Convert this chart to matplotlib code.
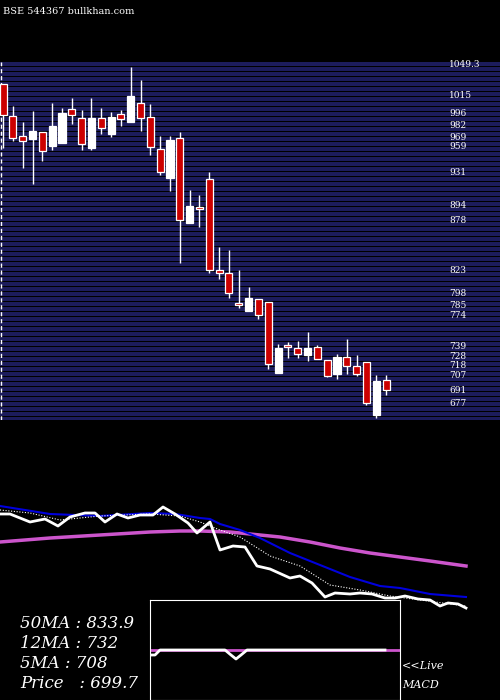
import matplotlib
matplotlib.use("Agg")
import matplotlib.pyplot as plt
import numpy as np

opens  = [1028,993,971,968,975,960,963,1001,991,958,991,973,995,986,1007,992,957,925,969,875,893,924,823,820,787,778,792,788,710,741,738,730,739,724,709,728,718,722,664,702]
closes = [994,969,965,976,954,982,996,994,962,991,980,992,990,1015,991,959,931,966,878,894,891,823,820,798,785,793,774,720,738,739,731,738,726,707,728,718,709,677,701,691]
highs  = [1028,1004,986,998,975,1007,1002,1013,999,1013,1002,997,999,1047,1032,1006,971,971,975,911,906,931,849,845,823,805,792,788,742,744,745,755,741,724,731,748,730,722,708,708]
lows   = [958,965,936,918,943,956,963,984,956,956,973,970,982,986,976,950,928,910,831,875,871,820,814,793,782,778,770,715,710,727,727,723,726,706,704,709,707,675,661,686]

# lower panel (moving averages), read in panel units
px_x = [0,10,30,45,58,70,85,95,105,117,128,140,153,163,175,188,197,210,220,233,245,257,270,290,300,312,325,335,350,360,372,385,395,405,418,430,440,448,458,466]
px_y = [514,514,522,519,526,517,513,513,522,514,518,515,515,507,514,523,533,522,550,546,547,566,569,578,576,583,597,593,594,593,594,598,598,596,599,600,606,603,604,608]
bl_x = [0,50,100,150,175,200,210,220,240,260,290,320,350,380,400,430,466]
bl_y = [506,514,516,513,514,518,519,524,530,538,553,565,577,586,588,594,597]
dt_x = [0,30,60,100,150,180,200,220,240,270,300,330,360,390,420,466]
dt_y = [510,513,520,516,514,516,522,530,537,556,566,585,590,596,600,606]
mg_x = [0,50,100,150,180,200,230,250,280,310,340,370,400,430,466]
mg_y = [542,538,535,532,531,531,532,534,537,542,548,553,557,561,566]
macd_x = [150,155,160,225,231,236,241,247,385]
macd_y = [655,655,650,650,655,659,655,650,650]

labels = ["50MA : 833.9", "12MA : 732", "5MA : 708", "Price   : 699.7"]

fig = plt.figure(figsize=(5, 7), dpi=100, facecolor="black")
W, H = 500, 700

def axes_px(x0, y0, x1, y1):
    return fig.add_axes([x0 / W, 1 - y1 / H, (x1 - x0) / W, (y1 - y0) / H])

# candle panel
ax = axes_px(0, 62, 500, 420)
ax.set_facecolor("black")
ylo, yhi = 658.5, 1052.3
ax.set_ylim(ylo, yhi)
ax.set_xlim(-0.31, 50.6)
for y in np.arange(yhi, ylo, -5.5):
    ax.axhspan(y - 4.0, y, color="#1c1c5c", lw=0, zorder=0)
n = len(opens)
for i in range(n):
    o, c, h, l = opens[i], closes[i], highs[i], lows[i]
    red = c < o
    ax.vlines(i, l, h, color="white", lw=1, zorder=2)
    ax.bar(i, abs(c - o) if abs(c - o) > 0.8 else 1.5, bottom=min(o, c), width=0.72,
           color="#cc0000" if red else "white", edgecolor="white", lw=0.9, zorder=3)
levels = sorted(set(closes + [1049.3]), reverse=True)
last = None
for v in levels:
    if last is not None and last - v < 10:
        continue
    ax.text(45.4, v, f"{v:g}", color="white", fontsize=6.5, family="DejaVu Serif",
            va="center", ha="left", zorder=4)
    last = v
ax.axvline(-0.22, color="white", lw=1, ls=(0, (3, 2)))
ax.axis("off")

fig.text(3 / W, 1 - 12 / H, "BSE 544367 bullkhan.com", color="white", fontsize=7,
         family="DejaVu Serif", va="center")

# MA panel
ax2 = axes_px(0, 490, 500, 700)
ax2.set_xlim(0, 500)
ax2.set_ylim(700, 490)
ax2.axis("off")
ax2.plot(mg_x, mg_y, color="#cc55cc", lw=2.5)
ax2.plot(bl_x, bl_y, color="#0000dd", lw=1.5)
ax2.plot(dt_x, dt_y, color="white", lw=0.8, ls=(0, (1, 1.5)))
ax2.plot(px_x, px_y, color="white", lw=2)

# MACD box
ax3 = axes_px(150, 600, 400, 700)
ax3.set_facecolor("black")
for s in ax3.spines.values():
    s.set_color("white")
ax3.set_xticks([]); ax3.set_yticks([])
ax3.set_xlim(150, 400); ax3.set_ylim(700, 600)
ax3.plot([150, 400], [650, 650], color="#cc55cc", lw=2)
ax3.plot(macd_x, macd_y, color="white", lw=2)

for k, t in enumerate(labels):
    fig.text(20 / W, 1 - (624 + k * 20) / H, t, color="white", fontsize=12,
             style="italic", family="DejaVu Serif", va="center")
fig.text(402 / W, 1 - 666 / H, "<<Live", color="white", fontsize=8, style="italic", family="DejaVu Serif", va="center")
fig.text(402 / W, 1 - 685 / H, "MACD", color="white", fontsize=8, style="italic", family="DejaVu Serif", va="center")

fig.savefig("out.png", dpi=100, facecolor="black")
